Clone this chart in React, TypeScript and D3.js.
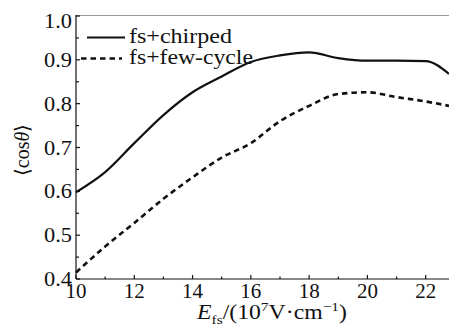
import React from "react";
import * as d3 from "d3";

// Field strength E_fs (10^7 V/cm)
const fieldValues = [10, 11, 12, 13, 14, 15, 16, 17, 18, 19, 20, 21, 22, 22.8];
// <cos θ> for the fs + chirped pulse combination
const chirpedValues = [0.598, 0.644, 0.71, 0.774, 0.826, 0.862, 0.895, 0.91, 0.917, 0.904, 0.898, 0.898, 0.897, 0.868];
// <cos θ> for the fs + few-cycle pulse combination
const fewCycleValues = [0.415, 0.474, 0.528, 0.583, 0.632, 0.677, 0.71, 0.76, 0.795, 0.822, 0.826, 0.815, 0.805, 0.795];

const xMajorTicks = [10, 12, 14, 16, 18, 20, 22];
const xMinorTicks = [11, 13, 15, 17, 19, 21];
const yMajorTicks = [0.4, 0.5, 0.6, 0.7, 0.8, 0.9, 1.0];
const yMinorTicks = [0.45, 0.55, 0.65, 0.75, 0.85, 0.95];

const seriesNames = ["fs+chirped", "fs+few-cycle"];

const W = 449;
const H = 334;
const left = 76;
const right = 449;
const top = 16;
const bottom = 279;

const serif = { fontFamily: "Liberation Serif" };

export default function App() {
  const x = d3.scaleLinear().domain([10, 22.8]).range([left, right]);
  const y = d3.scaleLinear().domain([0.4, 1.0]).range([bottom, top]);

  const line = d3
    .line<number>()
    .x((_, i) => x(fieldValues[i]))
    .y((d) => y(d))
    .curve(d3.curveMonotoneX);

  const ink = "#111";

  return (
    <svg
      width={W}
      height={H}
      viewBox={`0 0 ${W} ${H}`}
      style={{ position: "absolute", left: 0, top: 0, background: "#fff" }}
    >
      {/* frame */}
      <line x1={left} x2={right} y1={15.5} y2={15.5} stroke="#999" strokeWidth={1.2} />
      <line x1={left} x2={left} y1={15} y2={bottom} stroke={ink} strokeWidth={1.2} />
      <line x1={left} x2={right} y1={bottom} y2={bottom} stroke={ink} strokeWidth={1.2} />

      {/* y ticks */}
      {yMajorTicks.map((t) => (
        <g key={`ym${t}`}>
          <line x1={left} x2={left + 4} y1={y(t)} y2={y(t)} stroke={ink} strokeWidth={1.2} />
          <text
            x={72}
            y={y(t) + (t === 1.0 ? 5 : 0)}
            textAnchor="end"
            dominantBaseline="central"
            fontSize={20}
            fill={ink}
            style={serif}
            textLength={28}
            lengthAdjust="spacingAndGlyphs"
          >
            {t.toFixed(1)}
          </text>
        </g>
      ))}
      {yMinorTicks.map((t) => (
        <line key={`yn${t}`} x1={left} x2={left + 3} y1={y(t)} y2={y(t)} stroke={ink} strokeWidth={1.2} />
      ))}

      {/* x ticks */}
      {xMajorTicks.map((t) => (
        <g key={`xm${t}`}>
          <line x1={x(t)} x2={x(t)} y1={bottom} y2={bottom - 4} stroke={ink} strokeWidth={1.2} />
          <text
            x={x(t)}
            y={298}
            textAnchor="middle"
            fontSize={20}
            fill={ink}
            style={serif}
            textLength={21}
            lengthAdjust="spacingAndGlyphs"
          >
            {t}
          </text>
        </g>
      ))}
      {xMinorTicks.map((t) => (
        <line key={`xn${t}`} x1={x(t)} x2={x(t)} y1={bottom} y2={bottom - 2.5} stroke={ink} strokeWidth={1.2} />
      ))}

      {/* data lines */}
      <path d={line(chirpedValues) ?? ""} fill="none" stroke={ink} strokeWidth={2.2} />
      <path
        d={line(fewCycleValues) ?? ""}
        fill="none"
        stroke={ink}
        strokeWidth={2.6}
        strokeDasharray="5.5,4"
      />

      {/* legend */}
      <line x1={87} x2={125} y1={37.5} y2={37.5} stroke={ink} strokeWidth={2.2} />
      <text x={129} y={43} fontSize={22} fill={ink} style={serif} textLength={103} lengthAdjust="spacingAndGlyphs">
        {seriesNames[0]}
      </text>
      <line x1={81} x2={122} y1={58.5} y2={58.5} stroke={ink} strokeWidth={2.6} strokeDasharray="5.5,4" />
      <text x={129} y={64} fontSize={22} fill={ink} style={serif} textLength={124} lengthAdjust="spacingAndGlyphs">
        {seriesNames[1]}
      </text>

      {/* y axis label */}
      <text
        transform="translate(29,150) rotate(-90)"
        textAnchor="middle"
        fontSize={20}
        fill={ink}
        style={serif}
      >
        ⟨cos<tspan fontStyle="italic">θ</tspan>⟩
      </text>

      {/* x axis label */}
      <text x={197} y={319} fontSize={20} fill={ink} style={serif} textLength={150} lengthAdjust="spacingAndGlyphs">
        <tspan fontStyle="italic">E</tspan>
        <tspan fontSize={13} dy={5}>fs</tspan>
        <tspan dy={-5}>/(10</tspan>
        <tspan fontSize={13} dy={-8}>7</tspan>
        <tspan dy={8}>V·cm</tspan>
        <tspan fontSize={13} dy={-8}>−1</tspan>
        <tspan dy={8}>)</tspan>
      </text>
    </svg>
  );
}
